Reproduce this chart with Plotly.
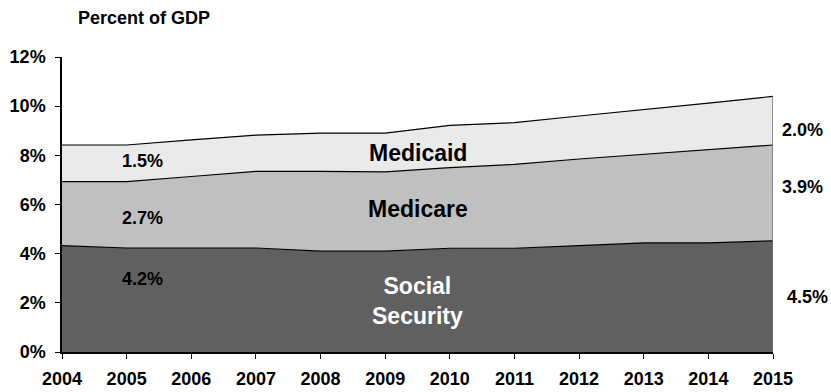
import plotly.graph_objects as go

years = [2004, 2005, 2006, 2007, 2008, 2009, 2010, 2011, 2012, 2013, 2014, 2015]
social_security = [4.33, 4.23, 4.23, 4.23, 4.10, 4.10, 4.22, 4.22, 4.33, 4.44, 4.44, 4.52]
medicare = [2.60, 2.70, 2.91, 3.12, 3.25, 3.23, 3.28, 3.41, 3.52, 3.61, 3.81, 3.90]
medicaid = [1.49, 1.49, 1.49, 1.47, 1.55, 1.57, 1.72, 1.70, 1.75, 1.80, 1.87, 1.98]
y_ticks = [0, 2, 4, 6, 8, 10, 12]
y_tick_labels = ["0%", "2%", "4%", "6%", "8%", "10%", "12%"]

FONT = "Arial, 'Liberation Sans', sans-serif"

L, R, T, B = 62, 58, 57, 40
PW, PH = 831 - L - R, 392 - T - B

def px_x(px):
    return (px - L) / PW

def px_y(py):
    return (392 - B - py) / PH

fig = go.Figure()
series = [
    ("Social Security", social_security, "#606060"),
    ("Medicare", medicare, "#c0c0c0"),
    ("Medicaid", medicaid, "#eaeaea"),
]
for name, vals, col in series:
    fig.add_trace(go.Scatter(
        x=years, y=vals, name=name, mode="lines", stackgroup="one",
        line=dict(color="#000000", width=1.2), fillcolor=col,
        hoverinfo="skip",
    ))

total_last = social_security[-1] + medicare[-1] + medicaid[-1]
fig.add_trace(go.Scatter(
    x=[years[-1], years[-1]], y=[0, total_last], mode="lines",
    line=dict(color="#707070", width=1.5), hoverinfo="skip", showlegend=False,
))

annos = []
def lab(x, y, text, size=18, color="#000000"):
    annos.append(dict(x=x, y=y, xref="x", yref="y", text="<b>%s</b>" % text,
                      showarrow=False, font=dict(family=FONT, size=size, color=color),
                      xanchor="center", yanchor="middle"))

def lab_px(px, py, text, size=18, color="#000000"):
    annos.append(dict(x=px_x(px), y=px_y(py), xref="paper", yref="paper",
                      text="<b>%s</b>" % text, showarrow=False,
                      font=dict(family=FONT, size=size, color=color),
                      xanchor="center", yanchor="middle"))

# left value labels (2005)
lab(2005.25, 7.75, "1.5%")
lab(2005.25, 5.45, "2.7%")
lab(2005.25, 2.95, "4.2%")
# right value labels (2015)
lab_px(802, 130, "2.0%")
lab_px(802, 187, "3.9%")
lab_px(807, 297, "4.5%")
# series names
lab(2009.5, 8.1, "Medicaid", size=23)
lab(2009.5, 5.8, "Medicare", size=23)
lab(2009.5, 2.07, "Social<br>Security", size=23, color="#ffffff")

lab_px(144, 18, "Percent of GDP", size=18)

fig.update_layout(
    width=831, height=392,
    margin=dict(l=L, r=R, t=T, b=B, autoexpand=False),
    paper_bgcolor="#ffffff", plot_bgcolor="#ffffff",
    showlegend=False,
    xaxis=dict(range=[2004, 2015], tickmode="array", tickvals=years,
               ticktext=["<b>%d</b>" % y for y in years],
               showgrid=False, zeroline=False, showline=True, linecolor="#000000", linewidth=1.5,
               ticks="outside", ticklen=5, tickcolor="#000000", automargin=False,
               tickfont=dict(family=FONT, size=18, color="#000000"), ticklabelstandoff=5,
               fixedrange=True),
    yaxis=dict(range=[0, 12], tickmode="array", tickvals=y_ticks,
               ticktext=["<b>%s</b>" % t for t in y_tick_labels],
               showgrid=False, zeroline=False, showline=True, linecolor="#000000", linewidth=1.5,
               ticks="outside", ticklen=5, tickcolor="#000000", automargin=False,
               tickfont=dict(family=FONT, size=18, color="#000000"), ticklabelstandoff=6,
               fixedrange=True),
    annotations=annos,
)

fig.write_html("out.html")
